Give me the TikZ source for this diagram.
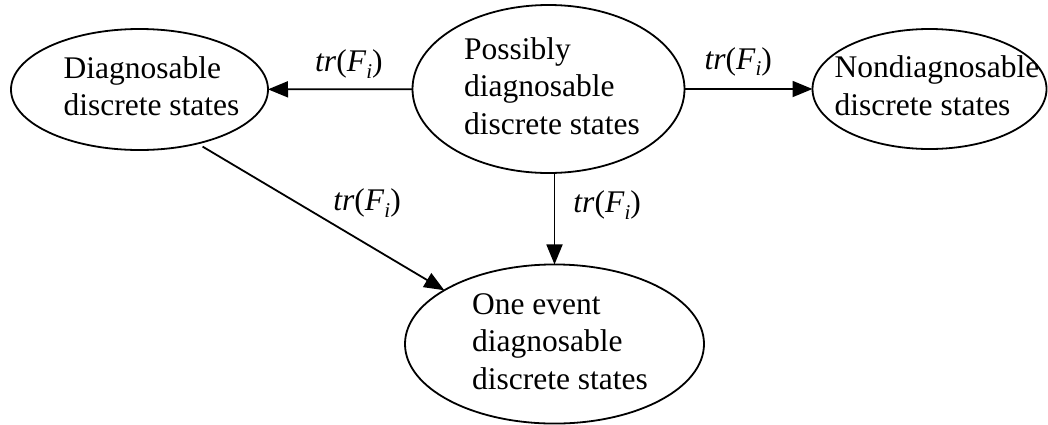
\documentclass[tikz,border=0pt]{standalone}
\usepackage{fontspec}
\setmainfont{Liberation Serif}
\usetikzlibrary{shapes.geometric,arrows.meta}

% left-aligned multi-line text, shifted by (#1,#2) from the node centre
\newcommand\ovaltext[3]{\raisebox{#2}{\makebox[0pt]{\hspace*{#1}\begin{tabular}{@{}l@{}}#3\end{tabular}}}}
% transition label tr(F_i)
\newcommand\trlabel{\textit{tr}(\textit{F}\raisebox{-0.22em}{\fontsize{21}{21}\selectfont\itshape i})}

\tikzset{
  state/.style={draw, ellipse, line width=1.8pt, inner sep=0pt, outer sep=0pt,
    font=\fontsize{31.5}{37.5}\selectfont},
  trans/.style={line width=1.8pt, -{Triangle[length=20pt,width=16pt]}},
  translabel/.style={inner sep=0pt, font=\fontsize{31.5}{37.5}\selectfont},
}

\begin{document}
\begin{tikzpicture}[x=1pt, y=-1pt]
  \useasboundingbox (0,0) rectangle (1048,424);

  \node[state, minimum width=257pt, minimum height=121pt] (d) at (139.5,89.5)
    {\ovaltext{24pt}{-3pt}{Diagnosable\\discrete states}};
  \node[state, minimum width=272pt, minimum height=168pt] (p) at (548.5,89)
    {\ovaltext{7pt}{-5pt}{Possibly\\diagnosable\\discrete states}};
  \node[state, minimum width=234pt, minimum height=120pt] (n) at (929.5,89)
    {\ovaltext{15pt}{-3pt}{Nondiagnosable\\discrete states}};
  \node[state, minimum width=299pt, minimum height=158pt] (o) at (554.5,344)
    {\ovaltext{11pt}{-3.5pt}{One event\\diagnosable\\discrete states}};

  \draw[trans] (p) -- node[translabel, pos=0.44, anchor=base, yshift=18pt] (l1) {\trlabel} (d);
  \draw[trans] (p) -- node[translabel, pos=0.42, anchor=base, yshift=20pt] (l2) {\trlabel} (n);
  \draw[trans] (p.south -| o.north) -- node[translabel, pos=0.43, anchor=base west, xshift=18pt] (l3) {\trlabel} (o.north);
  \draw[trans, shorten <=6pt] (d.-43) -- node[translabel, pos=0.547, anchor=base west, yshift=13pt] (l4) {\trlabel} (o.154);
\end{tikzpicture}
\end{document}
